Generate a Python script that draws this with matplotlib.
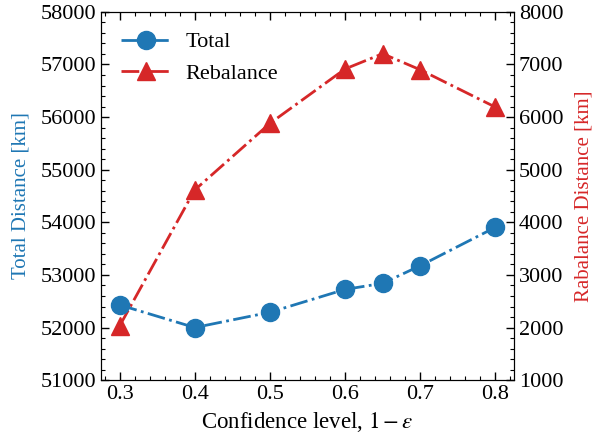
import matplotlib
matplotlib.use("Agg")
import matplotlib.pyplot as plt
from matplotlib.ticker import AutoMinorLocator

plt.rcParams['font.family'] = ['Liberation Serif', 'DejaVu Serif']
plt.rcParams['mathtext.fontset'] = 'stix'
plt.rcParams['font.size'] = 16

# confidence levels and distances (km)
conf = [0.3, 0.4, 0.5, 0.6, 0.65, 0.7, 0.8]
total = [52430, 52000, 52290, 52725, 52840, 53175, 53905]
rebalance = [2030, 4615, 5880, 6915, 7205, 6900, 6190]

blue = '#1f77b4'
red = '#d62728'

fig, ax = plt.subplots(figsize=(5.93, 4.4), dpi=100)
fig.subplots_adjust(left=0.170, right=0.867, top=0.973, bottom=0.136)
ax2 = ax.twinx()

l1, = ax.plot(conf, total, '-.', color=blue, marker='o', markersize=13,
              linewidth=2, label='Total', zorder=3)
l2, = ax2.plot(conf, rebalance, '-.', color=red, marker='^', markersize=13,
               linewidth=2, label='Rebalance')

ax.set_ylim(51000, 58000)
ax2.set_ylim(1000, 8000)
ax.set_yticks(range(51000, 58001, 1000))
ax2.set_yticks(range(1000, 8001, 1000))
ax.set_xticks([0.3, 0.4, 0.5, 0.6, 0.7, 0.8])

ax.set_xlabel(r'Confidence level, $1-\varepsilon$', fontsize=16.5)
ax.set_ylabel('Total Distance [km]', color=blue, fontsize=15, labelpad=7)
ax2.set_ylabel('Rabalance Distance [km]', color=red, fontsize=15, labelpad=8)

for a in (ax, ax2):
    a.xaxis.set_minor_locator(AutoMinorLocator(5))
    a.yaxis.set_minor_locator(AutoMinorLocator(5))
ax.tick_params(which='both', direction='in', top=True)
ax.tick_params(which='major', length=6, width=1)
ax.tick_params(which='minor', length=3, width=0.8)
ax2.tick_params(which='both', direction='in')
ax2.tick_params(which='major', length=6, width=1)
ax2.tick_params(which='minor', length=3, width=0.8)

ax.set_zorder(ax2.get_zorder() + 1)
ax.patch.set_visible(False)

ax.legend(handles=[l1, l2], loc='upper left', frameon=False,
          handlelength=2.3, handletextpad=0.6, borderaxespad=0.5)

plt.savefig('out.png', dpi=100)
